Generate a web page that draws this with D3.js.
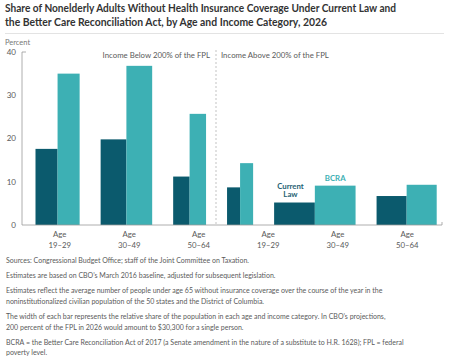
<!DOCTYPE html>
<html>
<head>
<meta charset="utf-8">
<script src="https://cdn.jsdelivr.net/npm/d3@7"></script>
<style>
  body { margin: 0; background: #fff; }
  text { font-family: Lato, "Open Sans", sans-serif; }
</style>
</head>
<body>
<div id="chart"></div>
<script>
// Data
const ageGroups = ['19–29', '30–49', '50–64', '19–29', '30–49', '50–64'];
const incomeGroups = ['Income Below 200% of the FPL', 'Income Above 200% of the FPL'];
const currentLaw = [17.6, 19.8, 11.2, 8.7, 5.2, 6.7];
const bcra = [35.0, 36.8, 25.7, 14.3, 9.1, 9.3];
// relative share of population (drives bar width)
const popShare = [14.9, 17.4, 11.1, 8.8, 27.5, 20.3];
const yTicks = [0, 10, 20, 30, 40];

const titleLines = [
  'Share of Nonelderly Adults Without Health Insurance Coverage Under Current Law and',
  'the Better Care Reconciliation Act, by Age and Income Category, 2026'
];
const notes = [
  ['Sources: Congressional Budget Office; staff of the Joint Committee on Taxation.'],
  ['Estimates are based on CBO\u2019s March 2016 baseline, adjusted for subsequent legislation.'],
  ['Estimates reflect the average number of people under age 65 without insurance coverage over the course of the year in the',
   'noninstitutionalized civilian population of the 50 states and the District of Columbia.'],
  ['The width of each bar represents the relative share of the population in each age and income category. In CBO\u2019s projections,',
   '200 percent of the FPL in 2026 would amount to $30,300 for a single person.'],
  ['BCRA = the Better Care Reconciliation Act of 2017 (a Senate amendment in the nature of a substitute to H.R. 1628); FPL = federal',
   'poverty level.']
];

const W = 450, H = 363;
const colors = {dark: '#0b5a6d', light: '#3db0b4', axis: '#999', text: '#5a5a5a'};

const svg = d3.select('#chart').append('svg')
    .attr('width', W)
    .attr('height', H);

// Title (squeezed to the width of the original condensed face)
const titleWidths = [391, 322];
svg.append('g').selectAll('text')
    .data(titleLines)
  .join('text')
    .attr('x', 5)
    .attr('y', (d, i) => 12 + i * 13.5)
    .attr('font-size', 11.5)
    .attr('font-weight', 700)
    .attr('fill', '#333')
    .attr('textLength', (d, i) => titleWidths[i])
    .attr('lengthAdjust', 'spacingAndGlyphs')
    .text(d => d);

svg.append('line')
    .attr('x1', 5).attr('x2', 444)
    .attr('y1', 33.5).attr('y2', 33.5)
    .attr('stroke', '#e3e3e3');

svg.append('text')
    .attr('x', 5).attr('y', 44.5)
    .attr('font-size', 7.5)
    .attr('fill', '#777')
    .text('Percent');

// Scales
const y = d3.scaleLinear().domain([0, 40]).range([225, 52]);
const plotLeft = 22, plotRight = 442;
const barStart = 35.5, barEnd = 436.7, gap = 21;
const w = d3.scaleLinear()
    .domain([0, d3.sum(popShare)])
    .range([0, barEnd - barStart - gap * (popShare.length - 1)]);
const xLabel = d3.scaleBand().domain(d3.range(ageGroups.length)).range([25, plotRight]);

// group positions from cumulative widths
let cursor = barStart;
const groups = popShare.map((s, i) => {
  const g = {i, x: cursor, width: w(s), cl: currentLaw[i], bc: bcra[i]};
  cursor += w(s) + gap;
  return g;
});

const chart = svg.append('g');

// bars
chart.selectAll('.bar-cl')
    .data(groups)
  .join('rect')
    .attr('class', 'bar-cl')
    .attr('x', d => d.x)
    .attr('width', d => d.width / 2)
    .attr('y', d => y(d.cl))
    .attr('height', d => y(0) - y(d.cl))
    .attr('fill', colors.dark);

chart.selectAll('.bar-bc')
    .data(groups)
  .join('rect')
    .attr('class', 'bar-bc')
    .attr('x', d => d.x + d.width / 2)
    .attr('width', d => d.width / 2)
    .attr('y', d => y(d.bc))
    .attr('height', d => y(0) - y(d.bc))
    .attr('fill', colors.light);

// Y axis: bracket line, labels only
chart.append('path')
    .attr('d', `M${plotLeft + 4},${y(40)}H${plotLeft}V${y(0)}H${plotRight}V${y(0) - 3}`)
    .attr('fill', 'none')
    .attr('stroke', colors.axis)
    .attr('stroke-width', 0.8);

chart.selectAll('.ytick')
    .data(yTicks)
  .join('text')
    .attr('class', 'ytick')
    .attr('x', 16)
    .attr('y', d => y(d))
    .attr('dy', '0.35em')
    .attr('text-anchor', 'end')
    .attr('font-size', 8)
    .attr('fill', colors.text)
    .text(d => d);

// X labels
const xl = chart.selectAll('.xlabel')
    .data(ageGroups)
  .join('text')
    .attr('class', 'xlabel')
    .attr('text-anchor', 'middle')
    .attr('font-size', 7.8)
    .attr('fill', colors.text);
xl.append('tspan')
    .attr('x', (d, i) => xLabel(i) + xLabel.bandwidth() / 2)
    .attr('y', 237)
    .text('Age');
xl.append('tspan')
    .attr('x', (d, i) => xLabel(i) + xLabel.bandwidth() / 2)
    .attr('y', 247.5)
    .text(d => d);

// Divider between income groups
const divX = 216;
chart.append('line')
    .attr('x1', divX).attr('x2', divX)
    .attr('y1', 50).attr('y2', y(0))
    .attr('stroke', '#aaa')
    .attr('stroke-width', 0.7)
    .attr('stroke-dasharray', '2,2');

chart.selectAll('.income')
    .data(incomeGroups)
  .join('text')
    .attr('class', 'income')
    .attr('x', (d, i) => i === 0 ? divX - 6 : divX + 5)
    .attr('y', 58)
    .attr('text-anchor', (d, i) => i === 0 ? 'end' : 'start')
    .attr('font-size', 7.8)
    .attr('fill', colors.text)
    .text(d => d);

// Series labels on the 30-49 / above 200% group
const lg = groups[4];
const clLabel = chart.append('text')
    .attr('text-anchor', 'middle')
    .attr('font-size', 7.8)
    .attr('font-weight', 700)
    .attr('fill', '#1f5f73');
clLabel.append('tspan').attr('x', lg.x + lg.width / 4 - 4).attr('y', y(lg.cl) - 14).text('Current');
clLabel.append('tspan').attr('x', lg.x + lg.width / 4 - 4).attr('y', y(lg.cl) - 5.5).text('Law');

chart.append('text')
    .attr('x', lg.x + lg.width * 3 / 4)
    .attr('y', y(lg.bc) - 4.5)
    .attr('text-anchor', 'middle')
    .attr('font-size', 7.8)
    .attr('font-weight', 700)
    .attr('fill', colors.light)
    .text('BCRA');

// Notes
let ny = 263;
const notesG = svg.append('g');
notes.forEach(par => {
  par.forEach((line, j) => {
    notesG.append('text')
        .attr('x', 6)
        .attr('y', ny + j * 10.5)
        .attr('font-size', 7.0)
        .attr('fill', colors.text)
        .text(line);
  });
  ny += par.length * 10.5 + 4.7;
});
</script>
</body>
</html>
